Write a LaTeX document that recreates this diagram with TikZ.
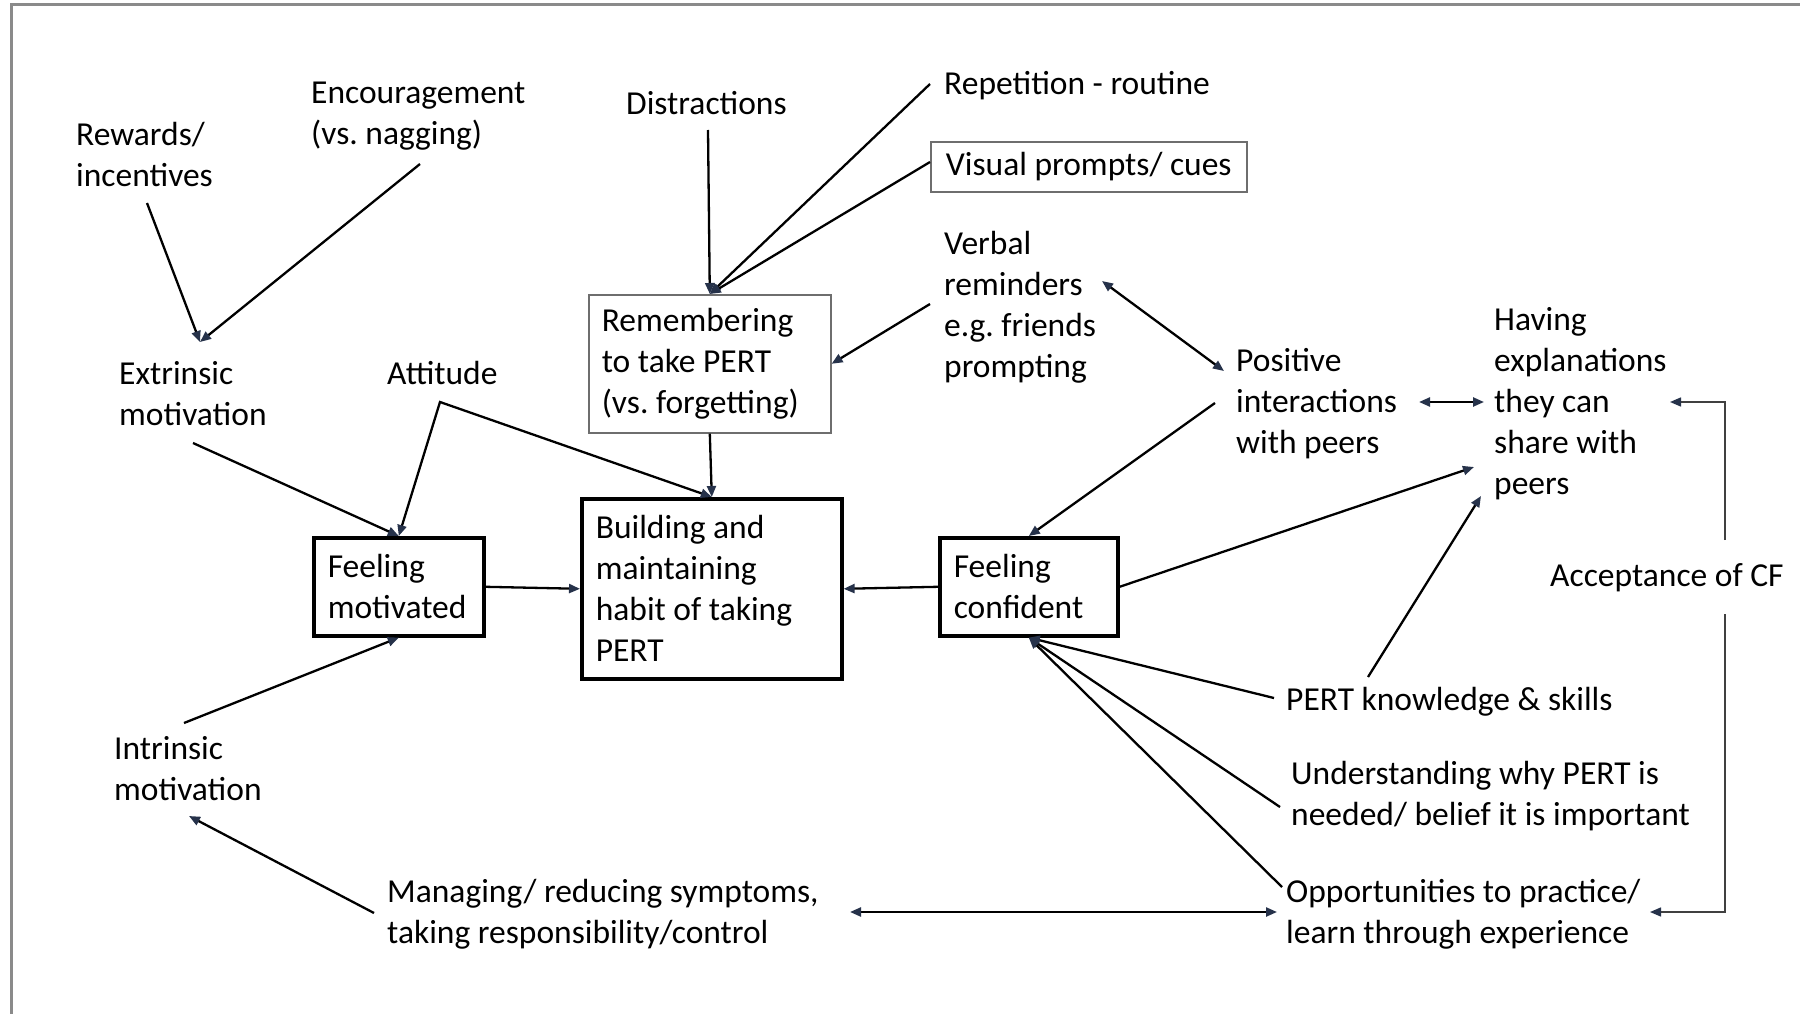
\documentclass[tikz,border=0pt]{standalone}
\usepackage{fontspec}
\setmainfont{Carlito}
\usetikzlibrary{arrows.meta,calc}
\definecolor{navy}{HTML}{26324A}
\definecolor{framegray}{HTML}{8A8A8A}
\begin{document}
\begin{tikzpicture}[x=1pt,y=-1pt,
  every node/.style={font=\fontsize{33.5}{41}\selectfont\frenchspacing},
  lbl/.style={anchor=base west,inner sep=0pt,align=flush left},
  thinbox/.style={draw=framegray!80!black,line width=1.6pt,align=flush left,inner xsep=13pt,inner ysep=0pt,anchor=north west},
  thickbox/.style={draw=black,line width=3.6pt,align=flush left,inner xsep=14pt,inner ysep=0pt,anchor=north west},
  arr/.style={line width=2.3pt,-{Triangle[length=11pt,width=9pt,fill=navy,color=navy]}},
  darr/.style={line width=2.3pt,{Triangle[length=11pt,width=9pt,fill=navy,color=navy]}-{Triangle[length=11pt,width=9pt,fill=navy,color=navy]}},
  garr/.style={line width=1.4pt,draw=black!75,-{Triangle[length=11pt,width=9pt,fill=navy,color=navy]}}
]
\useasboundingbox (0,0) rectangle (1800,1014);
\fill[white] (0,0) rectangle (1800,1014);
% frame
\draw[framegray,line width=3pt] (11,1014) -- (11,5) -- (1800,5);

% text nodes (anchor = baseline of the last line)
\node[lbl] (rew) at (76,186) {Rewards/\\incentives};
\node[lbl] (enc) at (311,145) {Encouragement\\(vs. nagging)};
\node[lbl] (ext) at (119,425) {Extrinsic\\motivation};
\node[lbl] (att) at (387,384) {Attitude};
\node[lbl] (dis) at (626,115) {Distractions};
\node[lbl] (rep) at (944,95) {Repetition - routine};
\node[lbl] (verb) at (944,377) {Verbal\\reminders\\e.g. friends\\prompting};
\node[lbl] (pos) at (1236,453) {Positive\\interactions\\with peers};
\node[lbl] (hav) at (1494,494) {Having\\explanations\\they can\\share with\\peers};
\node[lbl] (acc) at (1550,586) {Acceptance of CF};
\node[lbl] (know) at (1286,710) {PERT knowledge \& skills};
\node[lbl] (und) at (1291,825) {Understanding why PERT is\\needed/ belief it is important};
\node[lbl] (opp) at (1286,943) {Opportunities to practice/\\learn through experience};
\node[lbl] (intr) at (114,800) {Intrinsic\\motivation};
\node[lbl] (man) at (387,943) {Managing/ reducing symptoms,\\taking responsibility/control};

% boxes
\node[draw=framegray!80!black,line width=1.6pt,inner sep=0pt,minimum width=316pt,minimum height=50pt,anchor=north west] (vis) at (930,141) {Visual prompts/ cues};
\node[thinbox,text width=216pt,minimum height=138pt] (rem) at (588,294) {Remembering\\to take PERT\\(vs. forgetting)};
\node[thickbox,text width=232pt,minimum height=180pt] (bld) at (580,497) {Building and\\maintaining\\habit of taking\\PERT};
\node[thickbox,text width=142pt,minimum height=98pt] (fm) at (312,536) {Feeling\\motivated};
\node[thickbox,text width=150pt,minimum height=98pt] (fc) at (938,536) {Feeling\\confident};

% free ends
\coordinate (rewS) at (147,203);
\coordinate (encS) at (420,164);
\coordinate (extN) at (200,342);
\coordinate (extS) at (193,443);
\coordinate (attV) at (440,402);
\coordinate (disS) at (708,130);
\coordinate (repW) at (930,84);
\coordinate (visW) at (930,162);
\coordinate (verbW) at (930,304);
\coordinate (verbE) at (1102,281);
\coordinate (posW) at (1224,371);
\coordinate (posS) at (1215,403);
\coordinate (posE) at (1419,402);
\coordinate (havW) at (1484,402);
\coordinate (havSW) at (1474,467);
\coordinate (havS) at (1481,496);
\coordinate (knowN) at (1368,677);
\coordinate (knowW) at (1274,698);
\coordinate (undW) at (1280,807);
\coordinate (oppW) at (1282,887);
\coordinate (oppL) at (1277,912);
\coordinate (manR) at (850,912);
\coordinate (manL) at (374,913);
\coordinate (intrS) at (189,816);
\coordinate (intrN) at (184,723);
\coordinate (accN) at (1725,540);
\coordinate (accS) at (1725,614);
\coordinate (havE) at (1670,402);
\coordinate (oppE) at (1650,912);

% connectors
\draw[arr] (rewS) -- (extN);
\draw[arr] (encS) -- (extN);
\draw[arr] (extS) -- (fm.north);
\draw[darr] (fm.north) -- (attV) -- (bld.north);
\draw[arr] (disS) -- (rem.north);
\draw[arr] (repW) -- (rem.north);
\draw[arr] (visW) -- (rem.north);
\draw[arr] (verbW) -- (rem.east);
\draw[darr] (verbE) -- (posW);
\draw[arr] (rem.south) -- (bld.north);
\draw[arr] (fm.east) -- (bld.west);
\draw[arr] (fc.west) -- (bld.east);
\draw[arr] (posS) -- (fc.north);
\draw[darr] (posE) -- (havW);
\draw[arr] (fc.east) -- (havSW);
\draw[arr] (knowN) -- (havS);
\draw[arr] (knowW) -- (fc.south);
\draw[arr] (undW) -- (fc.south);
\draw[arr] (oppW) -- (fc.south);
\draw[darr] (manR) -- (oppL);
\draw[arr] (manL) -- (intrS);
\draw[arr] (intrN) -- (fm.south);
\draw[garr] (accN) |- (havE);
\draw[garr] (accS) |- (oppE);
\end{tikzpicture}
\end{document}
